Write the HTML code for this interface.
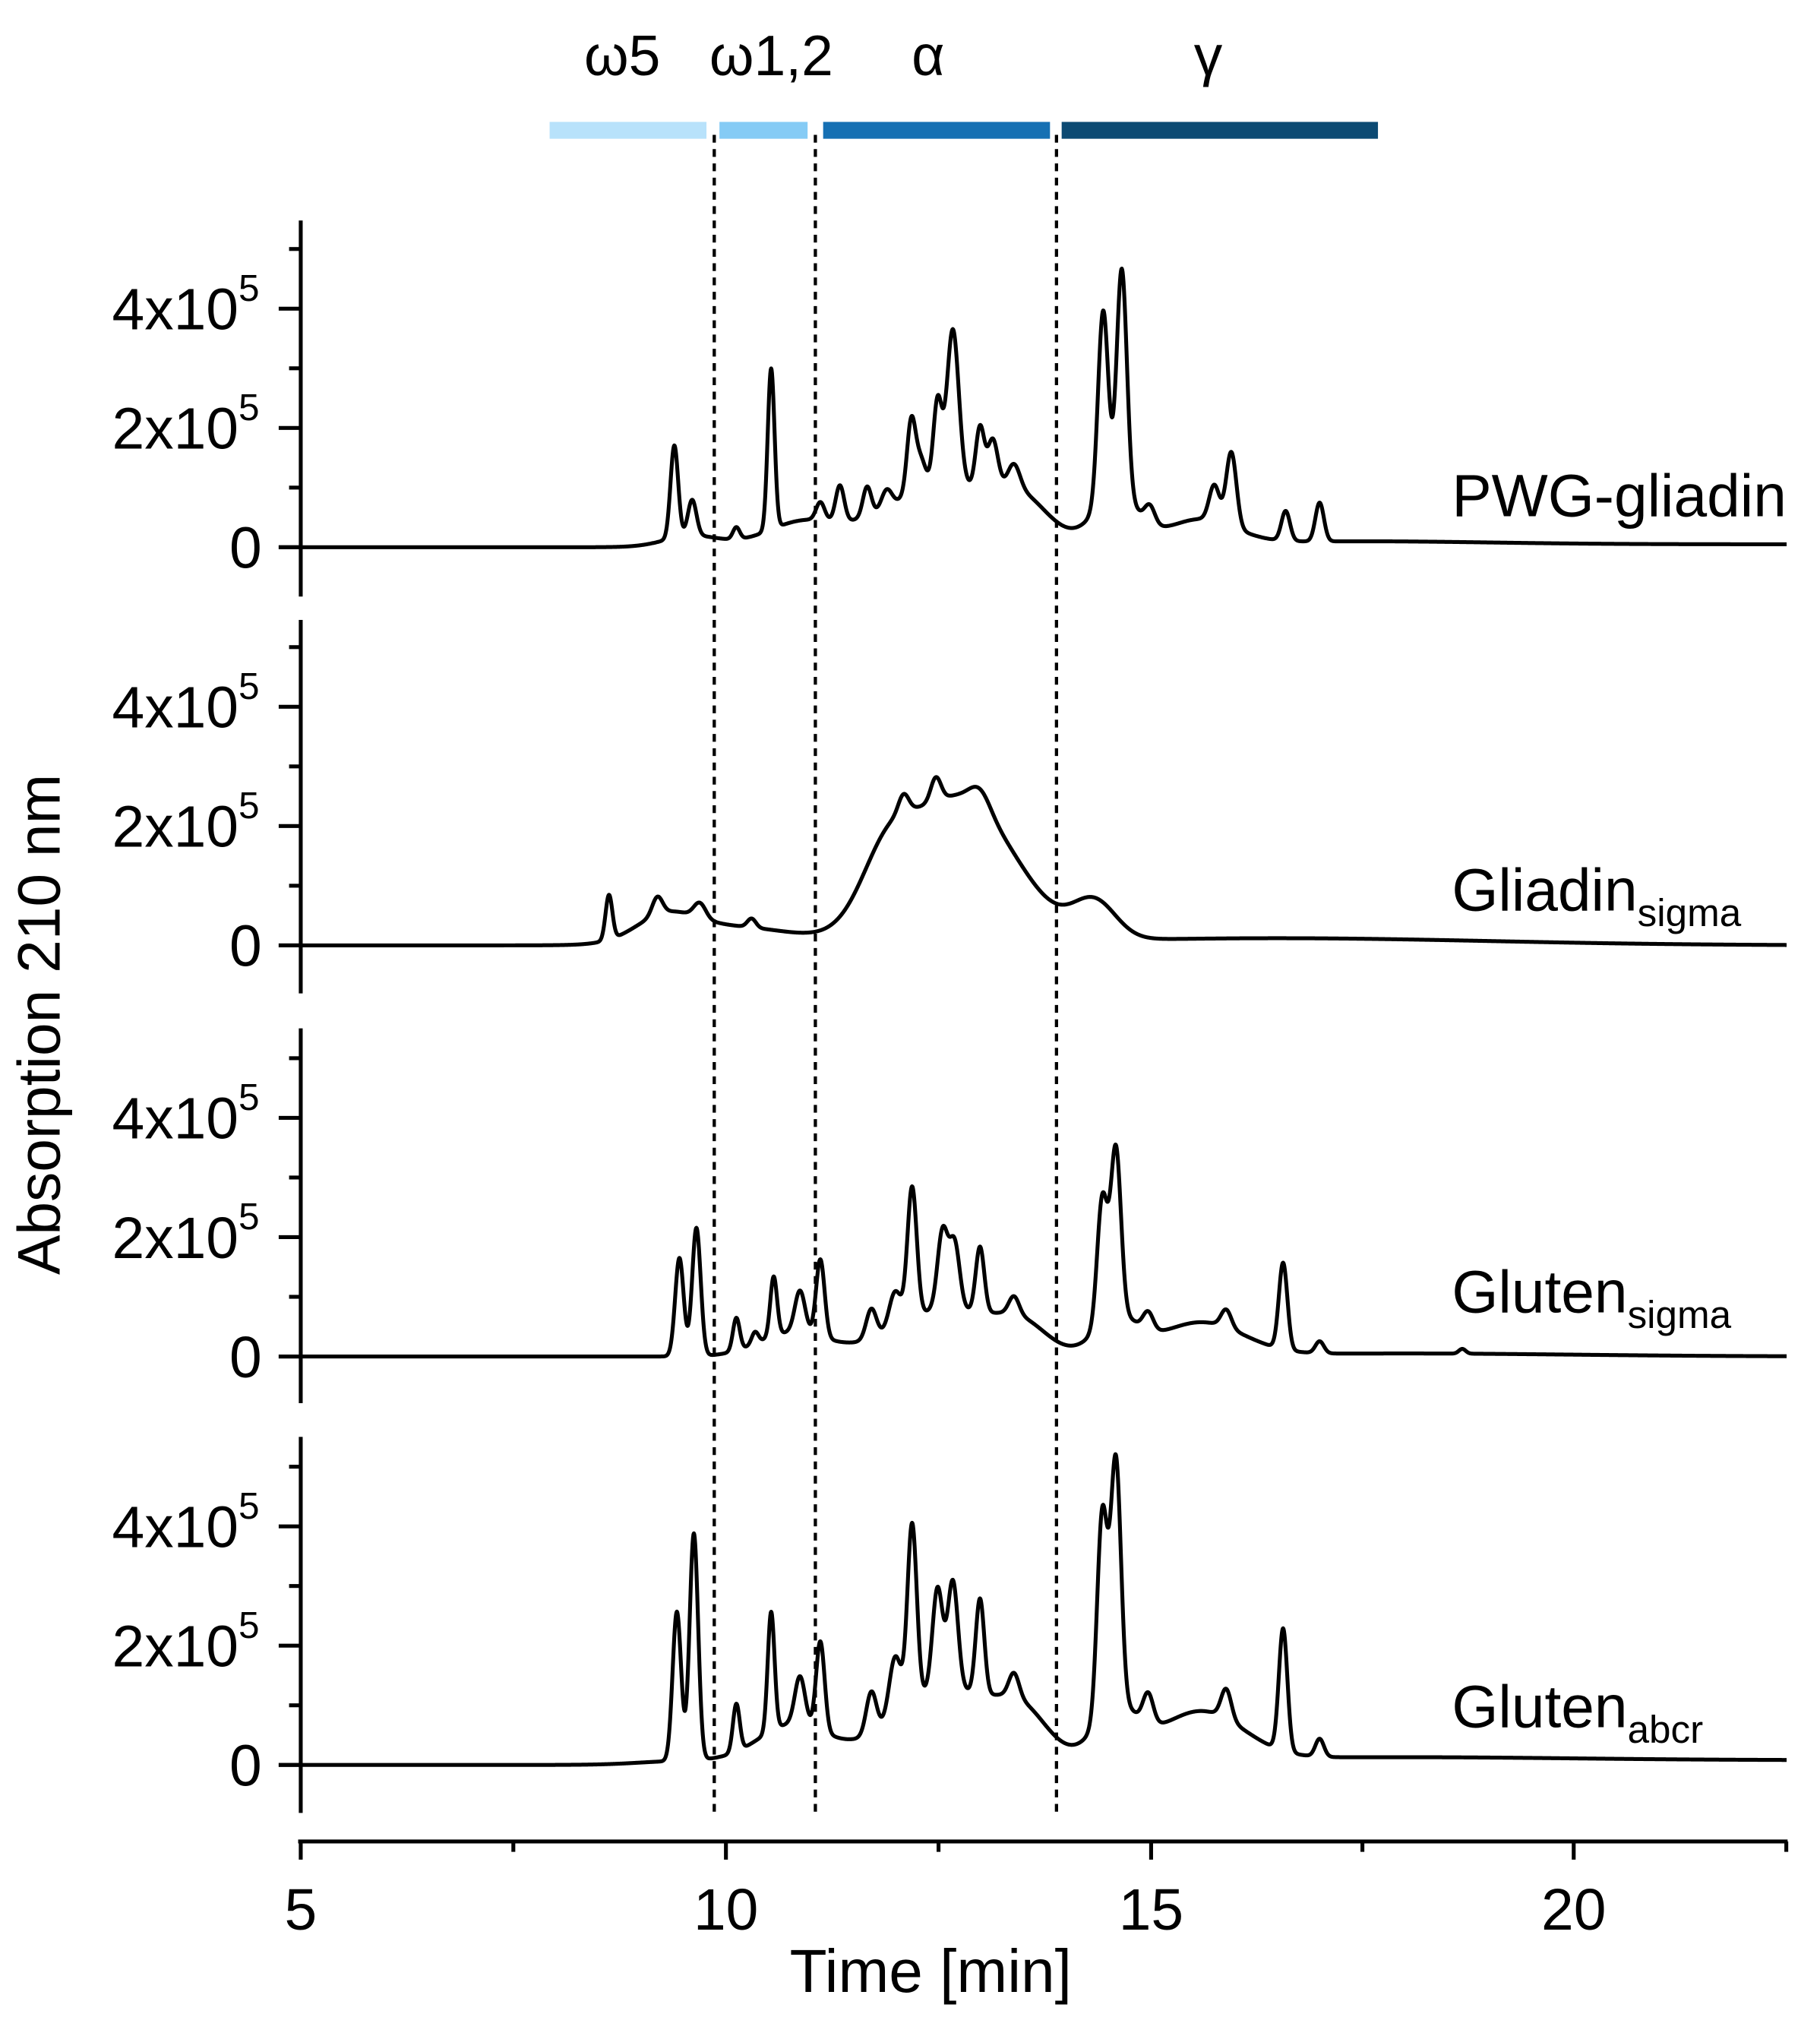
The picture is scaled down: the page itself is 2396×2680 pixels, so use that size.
<!DOCTYPE html>
<html><head><meta charset="utf-8"><style>
html,body{margin:0;padding:0;background:#fff}
svg{display:block}
text{font-family:"Liberation Sans",Arial,sans-serif;fill:#000}
</style></head><body>
<svg id="s" width="2396" height="2680" viewBox="0 0 1404 1570" preserveAspectRatio="none" xmlns="http://www.w3.org/2000/svg">
<g id="g"></g>
<rect x="424" y="94" width="121" height="13" fill="#b8e2fb"/>
<rect x="555" y="94" width="68" height="13" fill="#85cbf5"/>
<rect x="635" y="94" width="175" height="13" fill="#1670b3"/>
<rect x="819" y="94" width="244" height="13" fill="#0c4a73"/>
<text x="480" y="58" font-size="44" text-anchor="middle">ω5</text>
<text x="595" y="58" font-size="44" text-anchor="middle">ω1,2</text>
<text x="716" y="58" font-size="44" text-anchor="middle">α</text>
<text x="932" y="58" font-size="44" text-anchor="middle">γ</text>
<g stroke="#000" stroke-width="2.5" stroke-dasharray="6,5">
<line x1="551" y1="104" x2="551" y2="1400"/>
<line x1="629" y1="104" x2="629" y2="1400"/>
<line x1="815" y1="104" x2="815" y2="1400"/>
</g>
<g stroke="#000" stroke-width="3">
<line x1="230" y1="1420" x2="1379" y2="1420"/>
<line x1="232" y1="1420" x2="232" y2="1434"/>
<line x1="560" y1="1420" x2="560" y2="1434"/>
<line x1="888" y1="1420" x2="888" y2="1434"/>
<line x1="1214" y1="1420" x2="1214" y2="1434"/>
<line x1="396" y1="1420" x2="396" y2="1428"/>
<line x1="724" y1="1420" x2="724" y2="1428"/>
<line x1="1051" y1="1420" x2="1051" y2="1428"/>
<line x1="1378" y1="1420" x2="1378" y2="1428"/>
</g>
<g font-size="45" text-anchor="middle">
<text x="232" y="1488">5</text>
<text x="560" y="1488">10</text>
<text x="888" y="1488">15</text>
<text x="1214" y="1488">20</text>
<text x="718" y="1536" font-size="47">Time [min]</text>
</g>
<text transform="translate(46,790) rotate(-90)" font-size="46" text-anchor="middle">Absorption 210 nm</text>
<g font-size="46">
<text x="1120" y="398">PWG-gliadin</text>
<text x="1120" y="702">Gliadin<tspan font-size="30" dy="12">sigma</tspan></text>
<text x="1120" y="1012">Gluten<tspan font-size="30" dy="12">sigma</tspan></text>
<text x="1120" y="1332">Gluten<tspan font-size="30" dy="12">abcr</tspan></text>
</g>
</svg>
<script>
var g=document.getElementById('g');
var NS='http://www.w3.org/2000/svg';
function el(n,a){var e=document.createElementNS(NS,n);for(var k in a)e.setAttribute(k,a[k]);g.appendChild(e);return e;}
function X(t){return 232+(t-5)*65.5;}
function sg(t,c,w){return 1/(1+Math.exp(-(t-c)/w));}
var panels=[
{z:422,top:170,bot:460,base:function(t){return 0.05*sg(t,9.2,0.2)},pk:[
[12.6,1.0,0.7],[13.5,0.45,0.3],[14.6,0.8,0.25],[15.6,0.4,0.4],[10.9,0.35,0.4],[9.6,0.15,0.3],[17.5,0.05,1.5],
[9.4,1.55,0.045],[9.61,0.6,0.05],[10.13,0.2,0.04],[10.54,2.7,0.04],[11.12,0.3,0.05],[11.35,0.6,0.05],[11.67,0.5,0.05],[11.9,0.3,0.06],
[12.19,1.2,0.05],[12.3,0.5,0.06],[12.5,1.4,0.05],[12.68,2.6,0.07],[13.0,1.0,0.05],[13.15,0.8,0.06],[13.4,0.4,0.07],
[14.45,3.2,0.06],[14.67,3.8,0.06],[15.0,0.3,0.06],[15.76,0.6,0.06],[15.96,1.25,0.06],[16.6,0.5,0.05],[17.0,0.65,0.05]]},
{z:729,top:478,bot:766,base:function(t){return 0},pk:[
[12.75,2.45,0.65],[11.9,0.9,0.3],[12.48,0.4,0.06],[12.1,0.3,0.06],[13.0,0.3,0.12],[14.35,0.6,0.25],
[8.63,0.75,0.04],[9.3,0.4,0.35],[9.2,0.3,0.06],[9.7,0.25,0.07],[10.31,0.15,0.05],[10.1,0.3,0.7],[16.5,0.12,2.5]]},
{z:1046,top:793,bot:1082,base:function(t){return 0},pk:[
[12.6,0.8,0.6],[13.5,0.4,0.3],[14.6,0.6,0.25],[15.6,0.55,0.5],[10.8,0.4,0.4],[18,0.05,2],
[9.46,1.65,0.05],[9.66,2.15,0.05],[10.13,0.55,0.04],[10.35,0.2,0.04],[10.57,1.0,0.04],[10.88,0.7,0.06],[11.12,1.3,0.05],
[11.72,0.5,0.06],[12.0,0.6,0.07],[12.2,2.2,0.055],[12.56,1.3,0.06],[12.7,1.1,0.06],[13.0,1.1,0.05],[13.4,0.3,0.06],
[14.44,2.1,0.06],[14.6,2.8,0.06],[14.98,0.3,0.06],[15.9,0.3,0.06],[16.57,1.45,0.05],[17.0,0.2,0.05],[18.68,0.08,0.04]]},
{z:1361,top:1108,bot:1398,base:function(t){return 0.08*sg(t,9.0,0.25)},pk:[
[12.6,1.2,0.6],[13.5,0.6,0.3],[14.6,0.8,0.25],[15.6,0.8,0.5],[10.8,0.6,0.4],[18,0.05,2],
[9.43,2.5,0.05],[9.63,3.8,0.05],[10.13,0.8,0.04],[10.54,2.0,0.04],[10.88,0.8,0.06],[11.12,1.5,0.05],
[11.72,0.7,0.06],[12.0,1.0,0.07],[12.2,3.0,0.055],[12.5,1.7,0.06],[12.68,1.8,0.06],[13.0,1.6,0.05],[13.4,0.4,0.06],
[14.44,3.4,0.06],[14.6,4.1,0.06],[14.98,0.5,0.06],[15.9,0.5,0.06],[16.57,2.05,0.05],[17.0,0.3,0.05]]}
];
panels.forEach(function(p){
  el('line',{x1:232,y1:p.top,x2:232,y2:p.bot,stroke:'#000','stroke-width':3});
  el('line',{x1:215,y1:p.z,x2:232,y2:p.z,stroke:'#000','stroke-width':3});
  for(var k=0;k<=5;k++){var y=p.z-k*46;var len=(k%2==0)?17:9;
    el('line',{x1:232-len,y1:y,x2:232,y2:y,stroke:'#000','stroke-width':3});}
  [['0',0],['2x10',2],['4x10',4]].forEach(function(a){var y=p.z-a[1]*46+16;
    var tx=el('text',{x:a[1]?184:202,y:y,'font-size':45,'text-anchor':'end'});
    tx.textContent=a[0];
    if(a[1]){var s=el('text',{x:184,y:y-22,'font-size':29});s.textContent='5';}
  });
  var d='';
  for(var t=5;t<=22.5;t+=0.005){
    var v=p.base(t);
    p.pk.forEach(function(q){var u=(t-q[0])/q[2];v+=q[1]*Math.exp(-0.5*u*u);});
    d+=(d?'L':'M')+X(t).toFixed(2)+','+(p.z-v*46).toFixed(2);
  }
  el('path',{d:d,fill:'none',stroke:'#000','stroke-width':3,'stroke-linejoin':'round'});
});
</script>
</body></html>
